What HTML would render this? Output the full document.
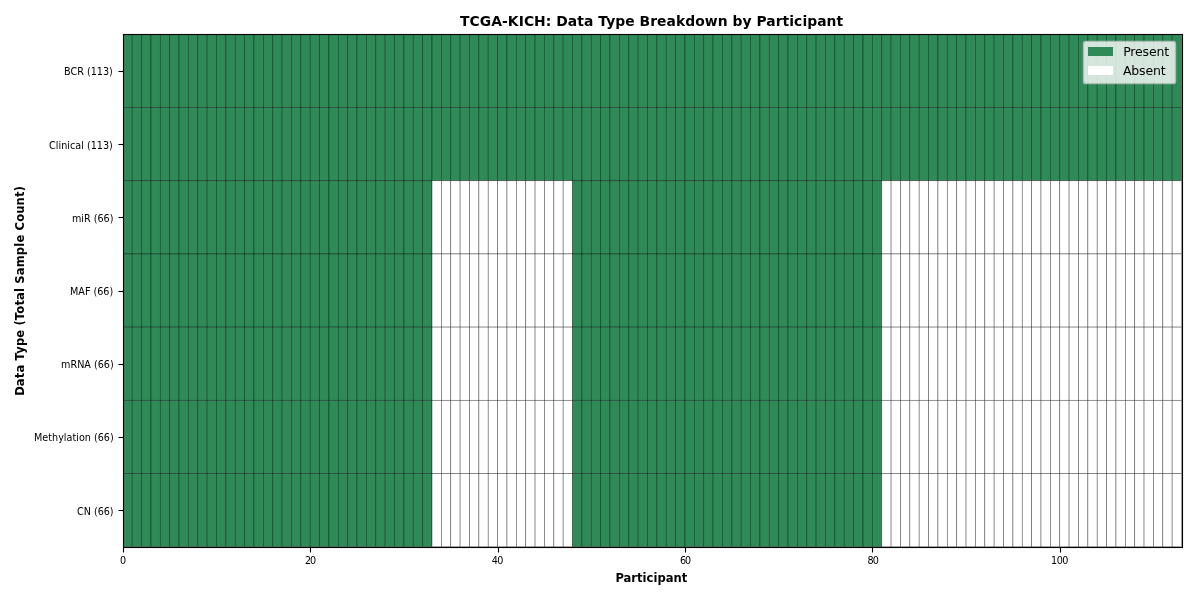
<!DOCTYPE html>
<html><head><meta charset="utf-8"><title>TCGA-KICH: Data Type Breakdown by Participant</title>
<style>
html,body{margin:0;padding:0;background:#fff;}
body{width:1200px;height:600px;overflow:hidden;}
svg{display:block;will-change:transform;}
text{font-family:"DejaVu Sans","Liberation Sans",sans-serif;fill:#000;}
.q rect{stroke:#000;stroke-opacity:.5;stroke-width:.694;}
.q .g{fill:#2e8b57;}
.q .w{fill:#fff;}
</style></head><body>
<svg width="1200" height="600" viewBox="0 0 1200 600">
<rect x="0" y="0" width="1200" height="600" fill="#fff"/>
<defs><clipPath id="ax"><rect x="123" y="34" width="1060" height="514"/></clipPath></defs>
<g class="q" clip-path="url(#ax)">
<rect class="g" x="122.85" y="34.333" width="9.369" height="73.198"/><rect class="g" x="132.219" y="34.333" width="9.369" height="73.198"/><rect class="g" x="141.588" y="34.333" width="9.369" height="73.198"/><rect class="g" x="150.957" y="34.333" width="9.369" height="73.198"/><rect class="g" x="160.326" y="34.333" width="9.369" height="73.198"/><rect class="g" x="169.695" y="34.333" width="9.369" height="73.198"/><rect class="g" x="179.064" y="34.333" width="9.369" height="73.198"/><rect class="g" x="188.433" y="34.333" width="9.369" height="73.198"/><rect class="g" x="197.802" y="34.333" width="9.369" height="73.198"/><rect class="g" x="207.171" y="34.333" width="9.369" height="73.198"/><rect class="g" x="216.54" y="34.333" width="9.369" height="73.198"/><rect class="g" x="225.909" y="34.333" width="9.369" height="73.198"/><rect class="g" x="235.278" y="34.333" width="9.369" height="73.198"/><rect class="g" x="244.647" y="34.333" width="9.369" height="73.198"/><rect class="g" x="254.016" y="34.333" width="9.369" height="73.198"/><rect class="g" x="263.385" y="34.333" width="9.369" height="73.198"/><rect class="g" x="272.754" y="34.333" width="9.369" height="73.198"/><rect class="g" x="282.123" y="34.333" width="9.369" height="73.198"/><rect class="g" x="291.492" y="34.333" width="9.369" height="73.198"/><rect class="g" x="300.862" y="34.333" width="9.369" height="73.198"/><rect class="g" x="310.231" y="34.333" width="9.369" height="73.198"/><rect class="g" x="319.6" y="34.333" width="9.369" height="73.198"/><rect class="g" x="328.969" y="34.333" width="9.369" height="73.198"/><rect class="g" x="338.338" y="34.333" width="9.369" height="73.198"/><rect class="g" x="347.707" y="34.333" width="9.369" height="73.198"/><rect class="g" x="357.076" y="34.333" width="9.369" height="73.198"/><rect class="g" x="366.445" y="34.333" width="9.369" height="73.198"/><rect class="g" x="375.814" y="34.333" width="9.369" height="73.198"/><rect class="g" x="385.183" y="34.333" width="9.369" height="73.198"/><rect class="g" x="394.552" y="34.333" width="9.369" height="73.198"/><rect class="g" x="403.921" y="34.333" width="9.369" height="73.198"/><rect class="g" x="413.29" y="34.333" width="9.369" height="73.198"/><rect class="g" x="422.659" y="34.333" width="9.369" height="73.198"/><rect class="g" x="432.028" y="34.333" width="9.369" height="73.198"/><rect class="g" x="441.397" y="34.333" width="9.369" height="73.198"/><rect class="g" x="450.766" y="34.333" width="9.369" height="73.198"/><rect class="g" x="460.135" y="34.333" width="9.369" height="73.198"/><rect class="g" x="469.504" y="34.333" width="9.369" height="73.198"/><rect class="g" x="478.873" y="34.333" width="9.369" height="73.198"/><rect class="g" x="488.242" y="34.333" width="9.369" height="73.198"/><rect class="g" x="497.611" y="34.333" width="9.369" height="73.198"/><rect class="g" x="506.98" y="34.333" width="9.369" height="73.198"/><rect class="g" x="516.349" y="34.333" width="9.369" height="73.198"/><rect class="g" x="525.718" y="34.333" width="9.369" height="73.198"/><rect class="g" x="535.087" y="34.333" width="9.369" height="73.198"/><rect class="g" x="544.456" y="34.333" width="9.369" height="73.198"/><rect class="g" x="553.825" y="34.333" width="9.369" height="73.198"/><rect class="g" x="563.194" y="34.333" width="9.369" height="73.198"/><rect class="g" x="572.563" y="34.333" width="9.369" height="73.198"/><rect class="g" x="581.932" y="34.333" width="9.369" height="73.198"/><rect class="g" x="591.301" y="34.333" width="9.369" height="73.198"/><rect class="g" x="600.67" y="34.333" width="9.369" height="73.198"/><rect class="g" x="610.039" y="34.333" width="9.369" height="73.198"/><rect class="g" x="619.408" y="34.333" width="9.369" height="73.198"/><rect class="g" x="628.777" y="34.333" width="9.369" height="73.198"/><rect class="g" x="638.146" y="34.333" width="9.369" height="73.198"/><rect class="g" x="647.515" y="34.333" width="9.369" height="73.198"/><rect class="g" x="656.885" y="34.333" width="9.369" height="73.198"/><rect class="g" x="666.254" y="34.333" width="9.369" height="73.198"/><rect class="g" x="675.623" y="34.333" width="9.369" height="73.198"/><rect class="g" x="684.992" y="34.333" width="9.369" height="73.198"/><rect class="g" x="694.361" y="34.333" width="9.369" height="73.198"/><rect class="g" x="703.73" y="34.333" width="9.369" height="73.198"/><rect class="g" x="713.099" y="34.333" width="9.369" height="73.198"/><rect class="g" x="722.468" y="34.333" width="9.369" height="73.198"/><rect class="g" x="731.837" y="34.333" width="9.369" height="73.198"/><rect class="g" x="741.206" y="34.333" width="9.369" height="73.198"/><rect class="g" x="750.575" y="34.333" width="9.369" height="73.198"/><rect class="g" x="759.944" y="34.333" width="9.369" height="73.198"/><rect class="g" x="769.313" y="34.333" width="9.369" height="73.198"/><rect class="g" x="778.682" y="34.333" width="9.369" height="73.198"/><rect class="g" x="788.051" y="34.333" width="9.369" height="73.198"/><rect class="g" x="797.42" y="34.333" width="9.369" height="73.198"/><rect class="g" x="806.789" y="34.333" width="9.369" height="73.198"/><rect class="g" x="816.158" y="34.333" width="9.369" height="73.198"/><rect class="g" x="825.527" y="34.333" width="9.369" height="73.198"/><rect class="g" x="834.896" y="34.333" width="9.369" height="73.198"/><rect class="g" x="844.265" y="34.333" width="9.369" height="73.198"/><rect class="g" x="853.634" y="34.333" width="9.369" height="73.198"/><rect class="g" x="863.003" y="34.333" width="9.369" height="73.198"/><rect class="g" x="872.372" y="34.333" width="9.369" height="73.198"/><rect class="g" x="881.741" y="34.333" width="9.369" height="73.198"/><rect class="g" x="891.11" y="34.333" width="9.369" height="73.198"/><rect class="g" x="900.479" y="34.333" width="9.369" height="73.198"/><rect class="g" x="909.848" y="34.333" width="9.369" height="73.198"/><rect class="g" x="919.217" y="34.333" width="9.369" height="73.198"/><rect class="g" x="928.586" y="34.333" width="9.369" height="73.198"/><rect class="g" x="937.955" y="34.333" width="9.369" height="73.198"/><rect class="g" x="947.324" y="34.333" width="9.369" height="73.198"/><rect class="g" x="956.693" y="34.333" width="9.369" height="73.198"/><rect class="g" x="966.062" y="34.333" width="9.369" height="73.198"/><rect class="g" x="975.431" y="34.333" width="9.369" height="73.198"/><rect class="g" x="984.8" y="34.333" width="9.369" height="73.198"/><rect class="g" x="994.169" y="34.333" width="9.369" height="73.198"/><rect class="g" x="1003.538" y="34.333" width="9.369" height="73.198"/><rect class="g" x="1012.908" y="34.333" width="9.369" height="73.198"/><rect class="g" x="1022.277" y="34.333" width="9.369" height="73.198"/><rect class="g" x="1031.646" y="34.333" width="9.369" height="73.198"/><rect class="g" x="1041.015" y="34.333" width="9.369" height="73.198"/><rect class="g" x="1050.384" y="34.333" width="9.369" height="73.198"/><rect class="g" x="1059.753" y="34.333" width="9.369" height="73.198"/><rect class="g" x="1069.122" y="34.333" width="9.369" height="73.198"/><rect class="g" x="1078.491" y="34.333" width="9.369" height="73.198"/><rect class="g" x="1087.86" y="34.333" width="9.369" height="73.198"/><rect class="g" x="1097.229" y="34.333" width="9.369" height="73.198"/><rect class="g" x="1106.598" y="34.333" width="9.369" height="73.198"/><rect class="g" x="1115.967" y="34.333" width="9.369" height="73.198"/><rect class="g" x="1125.336" y="34.333" width="9.369" height="73.198"/><rect class="g" x="1134.705" y="34.333" width="9.369" height="73.198"/><rect class="g" x="1144.074" y="34.333" width="9.369" height="73.198"/><rect class="g" x="1153.443" y="34.333" width="9.369" height="73.198"/><rect class="g" x="1162.812" y="34.333" width="9.369" height="73.198"/><rect class="g" x="1172.181" y="34.333" width="9.369" height="73.198"/>
<rect class="g" x="122.85" y="107.532" width="9.369" height="73.198"/><rect class="g" x="132.219" y="107.532" width="9.369" height="73.198"/><rect class="g" x="141.588" y="107.532" width="9.369" height="73.198"/><rect class="g" x="150.957" y="107.532" width="9.369" height="73.198"/><rect class="g" x="160.326" y="107.532" width="9.369" height="73.198"/><rect class="g" x="169.695" y="107.532" width="9.369" height="73.198"/><rect class="g" x="179.064" y="107.532" width="9.369" height="73.198"/><rect class="g" x="188.433" y="107.532" width="9.369" height="73.198"/><rect class="g" x="197.802" y="107.532" width="9.369" height="73.198"/><rect class="g" x="207.171" y="107.532" width="9.369" height="73.198"/><rect class="g" x="216.54" y="107.532" width="9.369" height="73.198"/><rect class="g" x="225.909" y="107.532" width="9.369" height="73.198"/><rect class="g" x="235.278" y="107.532" width="9.369" height="73.198"/><rect class="g" x="244.647" y="107.532" width="9.369" height="73.198"/><rect class="g" x="254.016" y="107.532" width="9.369" height="73.198"/><rect class="g" x="263.385" y="107.532" width="9.369" height="73.198"/><rect class="g" x="272.754" y="107.532" width="9.369" height="73.198"/><rect class="g" x="282.123" y="107.532" width="9.369" height="73.198"/><rect class="g" x="291.492" y="107.532" width="9.369" height="73.198"/><rect class="g" x="300.862" y="107.532" width="9.369" height="73.198"/><rect class="g" x="310.231" y="107.532" width="9.369" height="73.198"/><rect class="g" x="319.6" y="107.532" width="9.369" height="73.198"/><rect class="g" x="328.969" y="107.532" width="9.369" height="73.198"/><rect class="g" x="338.338" y="107.532" width="9.369" height="73.198"/><rect class="g" x="347.707" y="107.532" width="9.369" height="73.198"/><rect class="g" x="357.076" y="107.532" width="9.369" height="73.198"/><rect class="g" x="366.445" y="107.532" width="9.369" height="73.198"/><rect class="g" x="375.814" y="107.532" width="9.369" height="73.198"/><rect class="g" x="385.183" y="107.532" width="9.369" height="73.198"/><rect class="g" x="394.552" y="107.532" width="9.369" height="73.198"/><rect class="g" x="403.921" y="107.532" width="9.369" height="73.198"/><rect class="g" x="413.29" y="107.532" width="9.369" height="73.198"/><rect class="g" x="422.659" y="107.532" width="9.369" height="73.198"/><rect class="g" x="432.028" y="107.532" width="9.369" height="73.198"/><rect class="g" x="441.397" y="107.532" width="9.369" height="73.198"/><rect class="g" x="450.766" y="107.532" width="9.369" height="73.198"/><rect class="g" x="460.135" y="107.532" width="9.369" height="73.198"/><rect class="g" x="469.504" y="107.532" width="9.369" height="73.198"/><rect class="g" x="478.873" y="107.532" width="9.369" height="73.198"/><rect class="g" x="488.242" y="107.532" width="9.369" height="73.198"/><rect class="g" x="497.611" y="107.532" width="9.369" height="73.198"/><rect class="g" x="506.98" y="107.532" width="9.369" height="73.198"/><rect class="g" x="516.349" y="107.532" width="9.369" height="73.198"/><rect class="g" x="525.718" y="107.532" width="9.369" height="73.198"/><rect class="g" x="535.087" y="107.532" width="9.369" height="73.198"/><rect class="g" x="544.456" y="107.532" width="9.369" height="73.198"/><rect class="g" x="553.825" y="107.532" width="9.369" height="73.198"/><rect class="g" x="563.194" y="107.532" width="9.369" height="73.198"/><rect class="g" x="572.563" y="107.532" width="9.369" height="73.198"/><rect class="g" x="581.932" y="107.532" width="9.369" height="73.198"/><rect class="g" x="591.301" y="107.532" width="9.369" height="73.198"/><rect class="g" x="600.67" y="107.532" width="9.369" height="73.198"/><rect class="g" x="610.039" y="107.532" width="9.369" height="73.198"/><rect class="g" x="619.408" y="107.532" width="9.369" height="73.198"/><rect class="g" x="628.777" y="107.532" width="9.369" height="73.198"/><rect class="g" x="638.146" y="107.532" width="9.369" height="73.198"/><rect class="g" x="647.515" y="107.532" width="9.369" height="73.198"/><rect class="g" x="656.885" y="107.532" width="9.369" height="73.198"/><rect class="g" x="666.254" y="107.532" width="9.369" height="73.198"/><rect class="g" x="675.623" y="107.532" width="9.369" height="73.198"/><rect class="g" x="684.992" y="107.532" width="9.369" height="73.198"/><rect class="g" x="694.361" y="107.532" width="9.369" height="73.198"/><rect class="g" x="703.73" y="107.532" width="9.369" height="73.198"/><rect class="g" x="713.099" y="107.532" width="9.369" height="73.198"/><rect class="g" x="722.468" y="107.532" width="9.369" height="73.198"/><rect class="g" x="731.837" y="107.532" width="9.369" height="73.198"/><rect class="g" x="741.206" y="107.532" width="9.369" height="73.198"/><rect class="g" x="750.575" y="107.532" width="9.369" height="73.198"/><rect class="g" x="759.944" y="107.532" width="9.369" height="73.198"/><rect class="g" x="769.313" y="107.532" width="9.369" height="73.198"/><rect class="g" x="778.682" y="107.532" width="9.369" height="73.198"/><rect class="g" x="788.051" y="107.532" width="9.369" height="73.198"/><rect class="g" x="797.42" y="107.532" width="9.369" height="73.198"/><rect class="g" x="806.789" y="107.532" width="9.369" height="73.198"/><rect class="g" x="816.158" y="107.532" width="9.369" height="73.198"/><rect class="g" x="825.527" y="107.532" width="9.369" height="73.198"/><rect class="g" x="834.896" y="107.532" width="9.369" height="73.198"/><rect class="g" x="844.265" y="107.532" width="9.369" height="73.198"/><rect class="g" x="853.634" y="107.532" width="9.369" height="73.198"/><rect class="g" x="863.003" y="107.532" width="9.369" height="73.198"/><rect class="g" x="872.372" y="107.532" width="9.369" height="73.198"/><rect class="g" x="881.741" y="107.532" width="9.369" height="73.198"/><rect class="g" x="891.11" y="107.532" width="9.369" height="73.198"/><rect class="g" x="900.479" y="107.532" width="9.369" height="73.198"/><rect class="g" x="909.848" y="107.532" width="9.369" height="73.198"/><rect class="g" x="919.217" y="107.532" width="9.369" height="73.198"/><rect class="g" x="928.586" y="107.532" width="9.369" height="73.198"/><rect class="g" x="937.955" y="107.532" width="9.369" height="73.198"/><rect class="g" x="947.324" y="107.532" width="9.369" height="73.198"/><rect class="g" x="956.693" y="107.532" width="9.369" height="73.198"/><rect class="g" x="966.062" y="107.532" width="9.369" height="73.198"/><rect class="g" x="975.431" y="107.532" width="9.369" height="73.198"/><rect class="g" x="984.8" y="107.532" width="9.369" height="73.198"/><rect class="g" x="994.169" y="107.532" width="9.369" height="73.198"/><rect class="g" x="1003.538" y="107.532" width="9.369" height="73.198"/><rect class="g" x="1012.908" y="107.532" width="9.369" height="73.198"/><rect class="g" x="1022.277" y="107.532" width="9.369" height="73.198"/><rect class="g" x="1031.646" y="107.532" width="9.369" height="73.198"/><rect class="g" x="1041.015" y="107.532" width="9.369" height="73.198"/><rect class="g" x="1050.384" y="107.532" width="9.369" height="73.198"/><rect class="g" x="1059.753" y="107.532" width="9.369" height="73.198"/><rect class="g" x="1069.122" y="107.532" width="9.369" height="73.198"/><rect class="g" x="1078.491" y="107.532" width="9.369" height="73.198"/><rect class="g" x="1087.86" y="107.532" width="9.369" height="73.198"/><rect class="g" x="1097.229" y="107.532" width="9.369" height="73.198"/><rect class="g" x="1106.598" y="107.532" width="9.369" height="73.198"/><rect class="g" x="1115.967" y="107.532" width="9.369" height="73.198"/><rect class="g" x="1125.336" y="107.532" width="9.369" height="73.198"/><rect class="g" x="1134.705" y="107.532" width="9.369" height="73.198"/><rect class="g" x="1144.074" y="107.532" width="9.369" height="73.198"/><rect class="g" x="1153.443" y="107.532" width="9.369" height="73.198"/><rect class="g" x="1162.812" y="107.532" width="9.369" height="73.198"/><rect class="g" x="1172.181" y="107.532" width="9.369" height="73.198"/>
<rect class="g" x="122.85" y="180.73" width="9.369" height="73.198"/><rect class="g" x="132.219" y="180.73" width="9.369" height="73.198"/><rect class="g" x="141.588" y="180.73" width="9.369" height="73.198"/><rect class="g" x="150.957" y="180.73" width="9.369" height="73.198"/><rect class="g" x="160.326" y="180.73" width="9.369" height="73.198"/><rect class="g" x="169.695" y="180.73" width="9.369" height="73.198"/><rect class="g" x="179.064" y="180.73" width="9.369" height="73.198"/><rect class="g" x="188.433" y="180.73" width="9.369" height="73.198"/><rect class="g" x="197.802" y="180.73" width="9.369" height="73.198"/><rect class="g" x="207.171" y="180.73" width="9.369" height="73.198"/><rect class="g" x="216.54" y="180.73" width="9.369" height="73.198"/><rect class="g" x="225.909" y="180.73" width="9.369" height="73.198"/><rect class="g" x="235.278" y="180.73" width="9.369" height="73.198"/><rect class="g" x="244.647" y="180.73" width="9.369" height="73.198"/><rect class="g" x="254.016" y="180.73" width="9.369" height="73.198"/><rect class="g" x="263.385" y="180.73" width="9.369" height="73.198"/><rect class="g" x="272.754" y="180.73" width="9.369" height="73.198"/><rect class="g" x="282.123" y="180.73" width="9.369" height="73.198"/><rect class="g" x="291.492" y="180.73" width="9.369" height="73.198"/><rect class="g" x="300.862" y="180.73" width="9.369" height="73.198"/><rect class="g" x="310.231" y="180.73" width="9.369" height="73.198"/><rect class="g" x="319.6" y="180.73" width="9.369" height="73.198"/><rect class="g" x="328.969" y="180.73" width="9.369" height="73.198"/><rect class="g" x="338.338" y="180.73" width="9.369" height="73.198"/><rect class="g" x="347.707" y="180.73" width="9.369" height="73.198"/><rect class="g" x="357.076" y="180.73" width="9.369" height="73.198"/><rect class="g" x="366.445" y="180.73" width="9.369" height="73.198"/><rect class="g" x="375.814" y="180.73" width="9.369" height="73.198"/><rect class="g" x="385.183" y="180.73" width="9.369" height="73.198"/><rect class="g" x="394.552" y="180.73" width="9.369" height="73.198"/><rect class="g" x="403.921" y="180.73" width="9.369" height="73.198"/><rect class="g" x="413.29" y="180.73" width="9.369" height="73.198"/><rect class="g" x="422.659" y="180.73" width="9.369" height="73.198"/><rect class="w" x="432.028" y="180.73" width="9.369" height="73.198"/><rect class="w" x="441.397" y="180.73" width="9.369" height="73.198"/><rect class="w" x="450.766" y="180.73" width="9.369" height="73.198"/><rect class="w" x="460.135" y="180.73" width="9.369" height="73.198"/><rect class="w" x="469.504" y="180.73" width="9.369" height="73.198"/><rect class="w" x="478.873" y="180.73" width="9.369" height="73.198"/><rect class="w" x="488.242" y="180.73" width="9.369" height="73.198"/><rect class="w" x="497.611" y="180.73" width="9.369" height="73.198"/><rect class="w" x="506.98" y="180.73" width="9.369" height="73.198"/><rect class="w" x="516.349" y="180.73" width="9.369" height="73.198"/><rect class="w" x="525.718" y="180.73" width="9.369" height="73.198"/><rect class="w" x="535.087" y="180.73" width="9.369" height="73.198"/><rect class="w" x="544.456" y="180.73" width="9.369" height="73.198"/><rect class="w" x="553.825" y="180.73" width="9.369" height="73.198"/><rect class="w" x="563.194" y="180.73" width="9.369" height="73.198"/><rect class="g" x="572.563" y="180.73" width="9.369" height="73.198"/><rect class="g" x="581.932" y="180.73" width="9.369" height="73.198"/><rect class="g" x="591.301" y="180.73" width="9.369" height="73.198"/><rect class="g" x="600.67" y="180.73" width="9.369" height="73.198"/><rect class="g" x="610.039" y="180.73" width="9.369" height="73.198"/><rect class="g" x="619.408" y="180.73" width="9.369" height="73.198"/><rect class="g" x="628.777" y="180.73" width="9.369" height="73.198"/><rect class="g" x="638.146" y="180.73" width="9.369" height="73.198"/><rect class="g" x="647.515" y="180.73" width="9.369" height="73.198"/><rect class="g" x="656.885" y="180.73" width="9.369" height="73.198"/><rect class="g" x="666.254" y="180.73" width="9.369" height="73.198"/><rect class="g" x="675.623" y="180.73" width="9.369" height="73.198"/><rect class="g" x="684.992" y="180.73" width="9.369" height="73.198"/><rect class="g" x="694.361" y="180.73" width="9.369" height="73.198"/><rect class="g" x="703.73" y="180.73" width="9.369" height="73.198"/><rect class="g" x="713.099" y="180.73" width="9.369" height="73.198"/><rect class="g" x="722.468" y="180.73" width="9.369" height="73.198"/><rect class="g" x="731.837" y="180.73" width="9.369" height="73.198"/><rect class="g" x="741.206" y="180.73" width="9.369" height="73.198"/><rect class="g" x="750.575" y="180.73" width="9.369" height="73.198"/><rect class="g" x="759.944" y="180.73" width="9.369" height="73.198"/><rect class="g" x="769.313" y="180.73" width="9.369" height="73.198"/><rect class="g" x="778.682" y="180.73" width="9.369" height="73.198"/><rect class="g" x="788.051" y="180.73" width="9.369" height="73.198"/><rect class="g" x="797.42" y="180.73" width="9.369" height="73.198"/><rect class="g" x="806.789" y="180.73" width="9.369" height="73.198"/><rect class="g" x="816.158" y="180.73" width="9.369" height="73.198"/><rect class="g" x="825.527" y="180.73" width="9.369" height="73.198"/><rect class="g" x="834.896" y="180.73" width="9.369" height="73.198"/><rect class="g" x="844.265" y="180.73" width="9.369" height="73.198"/><rect class="g" x="853.634" y="180.73" width="9.369" height="73.198"/><rect class="g" x="863.003" y="180.73" width="9.369" height="73.198"/><rect class="g" x="872.372" y="180.73" width="9.369" height="73.198"/><rect class="w" x="881.741" y="180.73" width="9.369" height="73.198"/><rect class="w" x="891.11" y="180.73" width="9.369" height="73.198"/><rect class="w" x="900.479" y="180.73" width="9.369" height="73.198"/><rect class="w" x="909.848" y="180.73" width="9.369" height="73.198"/><rect class="w" x="919.217" y="180.73" width="9.369" height="73.198"/><rect class="w" x="928.586" y="180.73" width="9.369" height="73.198"/><rect class="w" x="937.955" y="180.73" width="9.369" height="73.198"/><rect class="w" x="947.324" y="180.73" width="9.369" height="73.198"/><rect class="w" x="956.693" y="180.73" width="9.369" height="73.198"/><rect class="w" x="966.062" y="180.73" width="9.369" height="73.198"/><rect class="w" x="975.431" y="180.73" width="9.369" height="73.198"/><rect class="w" x="984.8" y="180.73" width="9.369" height="73.198"/><rect class="w" x="994.169" y="180.73" width="9.369" height="73.198"/><rect class="w" x="1003.538" y="180.73" width="9.369" height="73.198"/><rect class="w" x="1012.908" y="180.73" width="9.369" height="73.198"/><rect class="w" x="1022.277" y="180.73" width="9.369" height="73.198"/><rect class="w" x="1031.646" y="180.73" width="9.369" height="73.198"/><rect class="w" x="1041.015" y="180.73" width="9.369" height="73.198"/><rect class="w" x="1050.384" y="180.73" width="9.369" height="73.198"/><rect class="w" x="1059.753" y="180.73" width="9.369" height="73.198"/><rect class="w" x="1069.122" y="180.73" width="9.369" height="73.198"/><rect class="w" x="1078.491" y="180.73" width="9.369" height="73.198"/><rect class="w" x="1087.86" y="180.73" width="9.369" height="73.198"/><rect class="w" x="1097.229" y="180.73" width="9.369" height="73.198"/><rect class="w" x="1106.598" y="180.73" width="9.369" height="73.198"/><rect class="w" x="1115.967" y="180.73" width="9.369" height="73.198"/><rect class="w" x="1125.336" y="180.73" width="9.369" height="73.198"/><rect class="w" x="1134.705" y="180.73" width="9.369" height="73.198"/><rect class="w" x="1144.074" y="180.73" width="9.369" height="73.198"/><rect class="w" x="1153.443" y="180.73" width="9.369" height="73.198"/><rect class="w" x="1162.812" y="180.73" width="9.369" height="73.198"/><rect class="w" x="1172.181" y="180.73" width="9.369" height="73.198"/>
<rect class="g" x="122.85" y="253.929" width="9.369" height="73.198"/><rect class="g" x="132.219" y="253.929" width="9.369" height="73.198"/><rect class="g" x="141.588" y="253.929" width="9.369" height="73.198"/><rect class="g" x="150.957" y="253.929" width="9.369" height="73.198"/><rect class="g" x="160.326" y="253.929" width="9.369" height="73.198"/><rect class="g" x="169.695" y="253.929" width="9.369" height="73.198"/><rect class="g" x="179.064" y="253.929" width="9.369" height="73.198"/><rect class="g" x="188.433" y="253.929" width="9.369" height="73.198"/><rect class="g" x="197.802" y="253.929" width="9.369" height="73.198"/><rect class="g" x="207.171" y="253.929" width="9.369" height="73.198"/><rect class="g" x="216.54" y="253.929" width="9.369" height="73.198"/><rect class="g" x="225.909" y="253.929" width="9.369" height="73.198"/><rect class="g" x="235.278" y="253.929" width="9.369" height="73.198"/><rect class="g" x="244.647" y="253.929" width="9.369" height="73.198"/><rect class="g" x="254.016" y="253.929" width="9.369" height="73.198"/><rect class="g" x="263.385" y="253.929" width="9.369" height="73.198"/><rect class="g" x="272.754" y="253.929" width="9.369" height="73.198"/><rect class="g" x="282.123" y="253.929" width="9.369" height="73.198"/><rect class="g" x="291.492" y="253.929" width="9.369" height="73.198"/><rect class="g" x="300.862" y="253.929" width="9.369" height="73.198"/><rect class="g" x="310.231" y="253.929" width="9.369" height="73.198"/><rect class="g" x="319.6" y="253.929" width="9.369" height="73.198"/><rect class="g" x="328.969" y="253.929" width="9.369" height="73.198"/><rect class="g" x="338.338" y="253.929" width="9.369" height="73.198"/><rect class="g" x="347.707" y="253.929" width="9.369" height="73.198"/><rect class="g" x="357.076" y="253.929" width="9.369" height="73.198"/><rect class="g" x="366.445" y="253.929" width="9.369" height="73.198"/><rect class="g" x="375.814" y="253.929" width="9.369" height="73.198"/><rect class="g" x="385.183" y="253.929" width="9.369" height="73.198"/><rect class="g" x="394.552" y="253.929" width="9.369" height="73.198"/><rect class="g" x="403.921" y="253.929" width="9.369" height="73.198"/><rect class="g" x="413.29" y="253.929" width="9.369" height="73.198"/><rect class="g" x="422.659" y="253.929" width="9.369" height="73.198"/><rect class="w" x="432.028" y="253.929" width="9.369" height="73.198"/><rect class="w" x="441.397" y="253.929" width="9.369" height="73.198"/><rect class="w" x="450.766" y="253.929" width="9.369" height="73.198"/><rect class="w" x="460.135" y="253.929" width="9.369" height="73.198"/><rect class="w" x="469.504" y="253.929" width="9.369" height="73.198"/><rect class="w" x="478.873" y="253.929" width="9.369" height="73.198"/><rect class="w" x="488.242" y="253.929" width="9.369" height="73.198"/><rect class="w" x="497.611" y="253.929" width="9.369" height="73.198"/><rect class="w" x="506.98" y="253.929" width="9.369" height="73.198"/><rect class="w" x="516.349" y="253.929" width="9.369" height="73.198"/><rect class="w" x="525.718" y="253.929" width="9.369" height="73.198"/><rect class="w" x="535.087" y="253.929" width="9.369" height="73.198"/><rect class="w" x="544.456" y="253.929" width="9.369" height="73.198"/><rect class="w" x="553.825" y="253.929" width="9.369" height="73.198"/><rect class="w" x="563.194" y="253.929" width="9.369" height="73.198"/><rect class="g" x="572.563" y="253.929" width="9.369" height="73.198"/><rect class="g" x="581.932" y="253.929" width="9.369" height="73.198"/><rect class="g" x="591.301" y="253.929" width="9.369" height="73.198"/><rect class="g" x="600.67" y="253.929" width="9.369" height="73.198"/><rect class="g" x="610.039" y="253.929" width="9.369" height="73.198"/><rect class="g" x="619.408" y="253.929" width="9.369" height="73.198"/><rect class="g" x="628.777" y="253.929" width="9.369" height="73.198"/><rect class="g" x="638.146" y="253.929" width="9.369" height="73.198"/><rect class="g" x="647.515" y="253.929" width="9.369" height="73.198"/><rect class="g" x="656.885" y="253.929" width="9.369" height="73.198"/><rect class="g" x="666.254" y="253.929" width="9.369" height="73.198"/><rect class="g" x="675.623" y="253.929" width="9.369" height="73.198"/><rect class="g" x="684.992" y="253.929" width="9.369" height="73.198"/><rect class="g" x="694.361" y="253.929" width="9.369" height="73.198"/><rect class="g" x="703.73" y="253.929" width="9.369" height="73.198"/><rect class="g" x="713.099" y="253.929" width="9.369" height="73.198"/><rect class="g" x="722.468" y="253.929" width="9.369" height="73.198"/><rect class="g" x="731.837" y="253.929" width="9.369" height="73.198"/><rect class="g" x="741.206" y="253.929" width="9.369" height="73.198"/><rect class="g" x="750.575" y="253.929" width="9.369" height="73.198"/><rect class="g" x="759.944" y="253.929" width="9.369" height="73.198"/><rect class="g" x="769.313" y="253.929" width="9.369" height="73.198"/><rect class="g" x="778.682" y="253.929" width="9.369" height="73.198"/><rect class="g" x="788.051" y="253.929" width="9.369" height="73.198"/><rect class="g" x="797.42" y="253.929" width="9.369" height="73.198"/><rect class="g" x="806.789" y="253.929" width="9.369" height="73.198"/><rect class="g" x="816.158" y="253.929" width="9.369" height="73.198"/><rect class="g" x="825.527" y="253.929" width="9.369" height="73.198"/><rect class="g" x="834.896" y="253.929" width="9.369" height="73.198"/><rect class="g" x="844.265" y="253.929" width="9.369" height="73.198"/><rect class="g" x="853.634" y="253.929" width="9.369" height="73.198"/><rect class="g" x="863.003" y="253.929" width="9.369" height="73.198"/><rect class="g" x="872.372" y="253.929" width="9.369" height="73.198"/><rect class="w" x="881.741" y="253.929" width="9.369" height="73.198"/><rect class="w" x="891.11" y="253.929" width="9.369" height="73.198"/><rect class="w" x="900.479" y="253.929" width="9.369" height="73.198"/><rect class="w" x="909.848" y="253.929" width="9.369" height="73.198"/><rect class="w" x="919.217" y="253.929" width="9.369" height="73.198"/><rect class="w" x="928.586" y="253.929" width="9.369" height="73.198"/><rect class="w" x="937.955" y="253.929" width="9.369" height="73.198"/><rect class="w" x="947.324" y="253.929" width="9.369" height="73.198"/><rect class="w" x="956.693" y="253.929" width="9.369" height="73.198"/><rect class="w" x="966.062" y="253.929" width="9.369" height="73.198"/><rect class="w" x="975.431" y="253.929" width="9.369" height="73.198"/><rect class="w" x="984.8" y="253.929" width="9.369" height="73.198"/><rect class="w" x="994.169" y="253.929" width="9.369" height="73.198"/><rect class="w" x="1003.538" y="253.929" width="9.369" height="73.198"/><rect class="w" x="1012.908" y="253.929" width="9.369" height="73.198"/><rect class="w" x="1022.277" y="253.929" width="9.369" height="73.198"/><rect class="w" x="1031.646" y="253.929" width="9.369" height="73.198"/><rect class="w" x="1041.015" y="253.929" width="9.369" height="73.198"/><rect class="w" x="1050.384" y="253.929" width="9.369" height="73.198"/><rect class="w" x="1059.753" y="253.929" width="9.369" height="73.198"/><rect class="w" x="1069.122" y="253.929" width="9.369" height="73.198"/><rect class="w" x="1078.491" y="253.929" width="9.369" height="73.198"/><rect class="w" x="1087.86" y="253.929" width="9.369" height="73.198"/><rect class="w" x="1097.229" y="253.929" width="9.369" height="73.198"/><rect class="w" x="1106.598" y="253.929" width="9.369" height="73.198"/><rect class="w" x="1115.967" y="253.929" width="9.369" height="73.198"/><rect class="w" x="1125.336" y="253.929" width="9.369" height="73.198"/><rect class="w" x="1134.705" y="253.929" width="9.369" height="73.198"/><rect class="w" x="1144.074" y="253.929" width="9.369" height="73.198"/><rect class="w" x="1153.443" y="253.929" width="9.369" height="73.198"/><rect class="w" x="1162.812" y="253.929" width="9.369" height="73.198"/><rect class="w" x="1172.181" y="253.929" width="9.369" height="73.198"/>
<rect class="g" x="122.85" y="327.127" width="9.369" height="73.198"/><rect class="g" x="132.219" y="327.127" width="9.369" height="73.198"/><rect class="g" x="141.588" y="327.127" width="9.369" height="73.198"/><rect class="g" x="150.957" y="327.127" width="9.369" height="73.198"/><rect class="g" x="160.326" y="327.127" width="9.369" height="73.198"/><rect class="g" x="169.695" y="327.127" width="9.369" height="73.198"/><rect class="g" x="179.064" y="327.127" width="9.369" height="73.198"/><rect class="g" x="188.433" y="327.127" width="9.369" height="73.198"/><rect class="g" x="197.802" y="327.127" width="9.369" height="73.198"/><rect class="g" x="207.171" y="327.127" width="9.369" height="73.198"/><rect class="g" x="216.54" y="327.127" width="9.369" height="73.198"/><rect class="g" x="225.909" y="327.127" width="9.369" height="73.198"/><rect class="g" x="235.278" y="327.127" width="9.369" height="73.198"/><rect class="g" x="244.647" y="327.127" width="9.369" height="73.198"/><rect class="g" x="254.016" y="327.127" width="9.369" height="73.198"/><rect class="g" x="263.385" y="327.127" width="9.369" height="73.198"/><rect class="g" x="272.754" y="327.127" width="9.369" height="73.198"/><rect class="g" x="282.123" y="327.127" width="9.369" height="73.198"/><rect class="g" x="291.492" y="327.127" width="9.369" height="73.198"/><rect class="g" x="300.862" y="327.127" width="9.369" height="73.198"/><rect class="g" x="310.231" y="327.127" width="9.369" height="73.198"/><rect class="g" x="319.6" y="327.127" width="9.369" height="73.198"/><rect class="g" x="328.969" y="327.127" width="9.369" height="73.198"/><rect class="g" x="338.338" y="327.127" width="9.369" height="73.198"/><rect class="g" x="347.707" y="327.127" width="9.369" height="73.198"/><rect class="g" x="357.076" y="327.127" width="9.369" height="73.198"/><rect class="g" x="366.445" y="327.127" width="9.369" height="73.198"/><rect class="g" x="375.814" y="327.127" width="9.369" height="73.198"/><rect class="g" x="385.183" y="327.127" width="9.369" height="73.198"/><rect class="g" x="394.552" y="327.127" width="9.369" height="73.198"/><rect class="g" x="403.921" y="327.127" width="9.369" height="73.198"/><rect class="g" x="413.29" y="327.127" width="9.369" height="73.198"/><rect class="g" x="422.659" y="327.127" width="9.369" height="73.198"/><rect class="w" x="432.028" y="327.127" width="9.369" height="73.198"/><rect class="w" x="441.397" y="327.127" width="9.369" height="73.198"/><rect class="w" x="450.766" y="327.127" width="9.369" height="73.198"/><rect class="w" x="460.135" y="327.127" width="9.369" height="73.198"/><rect class="w" x="469.504" y="327.127" width="9.369" height="73.198"/><rect class="w" x="478.873" y="327.127" width="9.369" height="73.198"/><rect class="w" x="488.242" y="327.127" width="9.369" height="73.198"/><rect class="w" x="497.611" y="327.127" width="9.369" height="73.198"/><rect class="w" x="506.98" y="327.127" width="9.369" height="73.198"/><rect class="w" x="516.349" y="327.127" width="9.369" height="73.198"/><rect class="w" x="525.718" y="327.127" width="9.369" height="73.198"/><rect class="w" x="535.087" y="327.127" width="9.369" height="73.198"/><rect class="w" x="544.456" y="327.127" width="9.369" height="73.198"/><rect class="w" x="553.825" y="327.127" width="9.369" height="73.198"/><rect class="w" x="563.194" y="327.127" width="9.369" height="73.198"/><rect class="g" x="572.563" y="327.127" width="9.369" height="73.198"/><rect class="g" x="581.932" y="327.127" width="9.369" height="73.198"/><rect class="g" x="591.301" y="327.127" width="9.369" height="73.198"/><rect class="g" x="600.67" y="327.127" width="9.369" height="73.198"/><rect class="g" x="610.039" y="327.127" width="9.369" height="73.198"/><rect class="g" x="619.408" y="327.127" width="9.369" height="73.198"/><rect class="g" x="628.777" y="327.127" width="9.369" height="73.198"/><rect class="g" x="638.146" y="327.127" width="9.369" height="73.198"/><rect class="g" x="647.515" y="327.127" width="9.369" height="73.198"/><rect class="g" x="656.885" y="327.127" width="9.369" height="73.198"/><rect class="g" x="666.254" y="327.127" width="9.369" height="73.198"/><rect class="g" x="675.623" y="327.127" width="9.369" height="73.198"/><rect class="g" x="684.992" y="327.127" width="9.369" height="73.198"/><rect class="g" x="694.361" y="327.127" width="9.369" height="73.198"/><rect class="g" x="703.73" y="327.127" width="9.369" height="73.198"/><rect class="g" x="713.099" y="327.127" width="9.369" height="73.198"/><rect class="g" x="722.468" y="327.127" width="9.369" height="73.198"/><rect class="g" x="731.837" y="327.127" width="9.369" height="73.198"/><rect class="g" x="741.206" y="327.127" width="9.369" height="73.198"/><rect class="g" x="750.575" y="327.127" width="9.369" height="73.198"/><rect class="g" x="759.944" y="327.127" width="9.369" height="73.198"/><rect class="g" x="769.313" y="327.127" width="9.369" height="73.198"/><rect class="g" x="778.682" y="327.127" width="9.369" height="73.198"/><rect class="g" x="788.051" y="327.127" width="9.369" height="73.198"/><rect class="g" x="797.42" y="327.127" width="9.369" height="73.198"/><rect class="g" x="806.789" y="327.127" width="9.369" height="73.198"/><rect class="g" x="816.158" y="327.127" width="9.369" height="73.198"/><rect class="g" x="825.527" y="327.127" width="9.369" height="73.198"/><rect class="g" x="834.896" y="327.127" width="9.369" height="73.198"/><rect class="g" x="844.265" y="327.127" width="9.369" height="73.198"/><rect class="g" x="853.634" y="327.127" width="9.369" height="73.198"/><rect class="g" x="863.003" y="327.127" width="9.369" height="73.198"/><rect class="g" x="872.372" y="327.127" width="9.369" height="73.198"/><rect class="w" x="881.741" y="327.127" width="9.369" height="73.198"/><rect class="w" x="891.11" y="327.127" width="9.369" height="73.198"/><rect class="w" x="900.479" y="327.127" width="9.369" height="73.198"/><rect class="w" x="909.848" y="327.127" width="9.369" height="73.198"/><rect class="w" x="919.217" y="327.127" width="9.369" height="73.198"/><rect class="w" x="928.586" y="327.127" width="9.369" height="73.198"/><rect class="w" x="937.955" y="327.127" width="9.369" height="73.198"/><rect class="w" x="947.324" y="327.127" width="9.369" height="73.198"/><rect class="w" x="956.693" y="327.127" width="9.369" height="73.198"/><rect class="w" x="966.062" y="327.127" width="9.369" height="73.198"/><rect class="w" x="975.431" y="327.127" width="9.369" height="73.198"/><rect class="w" x="984.8" y="327.127" width="9.369" height="73.198"/><rect class="w" x="994.169" y="327.127" width="9.369" height="73.198"/><rect class="w" x="1003.538" y="327.127" width="9.369" height="73.198"/><rect class="w" x="1012.908" y="327.127" width="9.369" height="73.198"/><rect class="w" x="1022.277" y="327.127" width="9.369" height="73.198"/><rect class="w" x="1031.646" y="327.127" width="9.369" height="73.198"/><rect class="w" x="1041.015" y="327.127" width="9.369" height="73.198"/><rect class="w" x="1050.384" y="327.127" width="9.369" height="73.198"/><rect class="w" x="1059.753" y="327.127" width="9.369" height="73.198"/><rect class="w" x="1069.122" y="327.127" width="9.369" height="73.198"/><rect class="w" x="1078.491" y="327.127" width="9.369" height="73.198"/><rect class="w" x="1087.86" y="327.127" width="9.369" height="73.198"/><rect class="w" x="1097.229" y="327.127" width="9.369" height="73.198"/><rect class="w" x="1106.598" y="327.127" width="9.369" height="73.198"/><rect class="w" x="1115.967" y="327.127" width="9.369" height="73.198"/><rect class="w" x="1125.336" y="327.127" width="9.369" height="73.198"/><rect class="w" x="1134.705" y="327.127" width="9.369" height="73.198"/><rect class="w" x="1144.074" y="327.127" width="9.369" height="73.198"/><rect class="w" x="1153.443" y="327.127" width="9.369" height="73.198"/><rect class="w" x="1162.812" y="327.127" width="9.369" height="73.198"/><rect class="w" x="1172.181" y="327.127" width="9.369" height="73.198"/>
<rect class="g" x="122.85" y="400.325" width="9.369" height="73.198"/><rect class="g" x="132.219" y="400.325" width="9.369" height="73.198"/><rect class="g" x="141.588" y="400.325" width="9.369" height="73.198"/><rect class="g" x="150.957" y="400.325" width="9.369" height="73.198"/><rect class="g" x="160.326" y="400.325" width="9.369" height="73.198"/><rect class="g" x="169.695" y="400.325" width="9.369" height="73.198"/><rect class="g" x="179.064" y="400.325" width="9.369" height="73.198"/><rect class="g" x="188.433" y="400.325" width="9.369" height="73.198"/><rect class="g" x="197.802" y="400.325" width="9.369" height="73.198"/><rect class="g" x="207.171" y="400.325" width="9.369" height="73.198"/><rect class="g" x="216.54" y="400.325" width="9.369" height="73.198"/><rect class="g" x="225.909" y="400.325" width="9.369" height="73.198"/><rect class="g" x="235.278" y="400.325" width="9.369" height="73.198"/><rect class="g" x="244.647" y="400.325" width="9.369" height="73.198"/><rect class="g" x="254.016" y="400.325" width="9.369" height="73.198"/><rect class="g" x="263.385" y="400.325" width="9.369" height="73.198"/><rect class="g" x="272.754" y="400.325" width="9.369" height="73.198"/><rect class="g" x="282.123" y="400.325" width="9.369" height="73.198"/><rect class="g" x="291.492" y="400.325" width="9.369" height="73.198"/><rect class="g" x="300.862" y="400.325" width="9.369" height="73.198"/><rect class="g" x="310.231" y="400.325" width="9.369" height="73.198"/><rect class="g" x="319.6" y="400.325" width="9.369" height="73.198"/><rect class="g" x="328.969" y="400.325" width="9.369" height="73.198"/><rect class="g" x="338.338" y="400.325" width="9.369" height="73.198"/><rect class="g" x="347.707" y="400.325" width="9.369" height="73.198"/><rect class="g" x="357.076" y="400.325" width="9.369" height="73.198"/><rect class="g" x="366.445" y="400.325" width="9.369" height="73.198"/><rect class="g" x="375.814" y="400.325" width="9.369" height="73.198"/><rect class="g" x="385.183" y="400.325" width="9.369" height="73.198"/><rect class="g" x="394.552" y="400.325" width="9.369" height="73.198"/><rect class="g" x="403.921" y="400.325" width="9.369" height="73.198"/><rect class="g" x="413.29" y="400.325" width="9.369" height="73.198"/><rect class="g" x="422.659" y="400.325" width="9.369" height="73.198"/><rect class="w" x="432.028" y="400.325" width="9.369" height="73.198"/><rect class="w" x="441.397" y="400.325" width="9.369" height="73.198"/><rect class="w" x="450.766" y="400.325" width="9.369" height="73.198"/><rect class="w" x="460.135" y="400.325" width="9.369" height="73.198"/><rect class="w" x="469.504" y="400.325" width="9.369" height="73.198"/><rect class="w" x="478.873" y="400.325" width="9.369" height="73.198"/><rect class="w" x="488.242" y="400.325" width="9.369" height="73.198"/><rect class="w" x="497.611" y="400.325" width="9.369" height="73.198"/><rect class="w" x="506.98" y="400.325" width="9.369" height="73.198"/><rect class="w" x="516.349" y="400.325" width="9.369" height="73.198"/><rect class="w" x="525.718" y="400.325" width="9.369" height="73.198"/><rect class="w" x="535.087" y="400.325" width="9.369" height="73.198"/><rect class="w" x="544.456" y="400.325" width="9.369" height="73.198"/><rect class="w" x="553.825" y="400.325" width="9.369" height="73.198"/><rect class="w" x="563.194" y="400.325" width="9.369" height="73.198"/><rect class="g" x="572.563" y="400.325" width="9.369" height="73.198"/><rect class="g" x="581.932" y="400.325" width="9.369" height="73.198"/><rect class="g" x="591.301" y="400.325" width="9.369" height="73.198"/><rect class="g" x="600.67" y="400.325" width="9.369" height="73.198"/><rect class="g" x="610.039" y="400.325" width="9.369" height="73.198"/><rect class="g" x="619.408" y="400.325" width="9.369" height="73.198"/><rect class="g" x="628.777" y="400.325" width="9.369" height="73.198"/><rect class="g" x="638.146" y="400.325" width="9.369" height="73.198"/><rect class="g" x="647.515" y="400.325" width="9.369" height="73.198"/><rect class="g" x="656.885" y="400.325" width="9.369" height="73.198"/><rect class="g" x="666.254" y="400.325" width="9.369" height="73.198"/><rect class="g" x="675.623" y="400.325" width="9.369" height="73.198"/><rect class="g" x="684.992" y="400.325" width="9.369" height="73.198"/><rect class="g" x="694.361" y="400.325" width="9.369" height="73.198"/><rect class="g" x="703.73" y="400.325" width="9.369" height="73.198"/><rect class="g" x="713.099" y="400.325" width="9.369" height="73.198"/><rect class="g" x="722.468" y="400.325" width="9.369" height="73.198"/><rect class="g" x="731.837" y="400.325" width="9.369" height="73.198"/><rect class="g" x="741.206" y="400.325" width="9.369" height="73.198"/><rect class="g" x="750.575" y="400.325" width="9.369" height="73.198"/><rect class="g" x="759.944" y="400.325" width="9.369" height="73.198"/><rect class="g" x="769.313" y="400.325" width="9.369" height="73.198"/><rect class="g" x="778.682" y="400.325" width="9.369" height="73.198"/><rect class="g" x="788.051" y="400.325" width="9.369" height="73.198"/><rect class="g" x="797.42" y="400.325" width="9.369" height="73.198"/><rect class="g" x="806.789" y="400.325" width="9.369" height="73.198"/><rect class="g" x="816.158" y="400.325" width="9.369" height="73.198"/><rect class="g" x="825.527" y="400.325" width="9.369" height="73.198"/><rect class="g" x="834.896" y="400.325" width="9.369" height="73.198"/><rect class="g" x="844.265" y="400.325" width="9.369" height="73.198"/><rect class="g" x="853.634" y="400.325" width="9.369" height="73.198"/><rect class="g" x="863.003" y="400.325" width="9.369" height="73.198"/><rect class="g" x="872.372" y="400.325" width="9.369" height="73.198"/><rect class="w" x="881.741" y="400.325" width="9.369" height="73.198"/><rect class="w" x="891.11" y="400.325" width="9.369" height="73.198"/><rect class="w" x="900.479" y="400.325" width="9.369" height="73.198"/><rect class="w" x="909.848" y="400.325" width="9.369" height="73.198"/><rect class="w" x="919.217" y="400.325" width="9.369" height="73.198"/><rect class="w" x="928.586" y="400.325" width="9.369" height="73.198"/><rect class="w" x="937.955" y="400.325" width="9.369" height="73.198"/><rect class="w" x="947.324" y="400.325" width="9.369" height="73.198"/><rect class="w" x="956.693" y="400.325" width="9.369" height="73.198"/><rect class="w" x="966.062" y="400.325" width="9.369" height="73.198"/><rect class="w" x="975.431" y="400.325" width="9.369" height="73.198"/><rect class="w" x="984.8" y="400.325" width="9.369" height="73.198"/><rect class="w" x="994.169" y="400.325" width="9.369" height="73.198"/><rect class="w" x="1003.538" y="400.325" width="9.369" height="73.198"/><rect class="w" x="1012.908" y="400.325" width="9.369" height="73.198"/><rect class="w" x="1022.277" y="400.325" width="9.369" height="73.198"/><rect class="w" x="1031.646" y="400.325" width="9.369" height="73.198"/><rect class="w" x="1041.015" y="400.325" width="9.369" height="73.198"/><rect class="w" x="1050.384" y="400.325" width="9.369" height="73.198"/><rect class="w" x="1059.753" y="400.325" width="9.369" height="73.198"/><rect class="w" x="1069.122" y="400.325" width="9.369" height="73.198"/><rect class="w" x="1078.491" y="400.325" width="9.369" height="73.198"/><rect class="w" x="1087.86" y="400.325" width="9.369" height="73.198"/><rect class="w" x="1097.229" y="400.325" width="9.369" height="73.198"/><rect class="w" x="1106.598" y="400.325" width="9.369" height="73.198"/><rect class="w" x="1115.967" y="400.325" width="9.369" height="73.198"/><rect class="w" x="1125.336" y="400.325" width="9.369" height="73.198"/><rect class="w" x="1134.705" y="400.325" width="9.369" height="73.198"/><rect class="w" x="1144.074" y="400.325" width="9.369" height="73.198"/><rect class="w" x="1153.443" y="400.325" width="9.369" height="73.198"/><rect class="w" x="1162.812" y="400.325" width="9.369" height="73.198"/><rect class="w" x="1172.181" y="400.325" width="9.369" height="73.198"/>
<rect class="g" x="122.85" y="473.524" width="9.369" height="73.198"/><rect class="g" x="132.219" y="473.524" width="9.369" height="73.198"/><rect class="g" x="141.588" y="473.524" width="9.369" height="73.198"/><rect class="g" x="150.957" y="473.524" width="9.369" height="73.198"/><rect class="g" x="160.326" y="473.524" width="9.369" height="73.198"/><rect class="g" x="169.695" y="473.524" width="9.369" height="73.198"/><rect class="g" x="179.064" y="473.524" width="9.369" height="73.198"/><rect class="g" x="188.433" y="473.524" width="9.369" height="73.198"/><rect class="g" x="197.802" y="473.524" width="9.369" height="73.198"/><rect class="g" x="207.171" y="473.524" width="9.369" height="73.198"/><rect class="g" x="216.54" y="473.524" width="9.369" height="73.198"/><rect class="g" x="225.909" y="473.524" width="9.369" height="73.198"/><rect class="g" x="235.278" y="473.524" width="9.369" height="73.198"/><rect class="g" x="244.647" y="473.524" width="9.369" height="73.198"/><rect class="g" x="254.016" y="473.524" width="9.369" height="73.198"/><rect class="g" x="263.385" y="473.524" width="9.369" height="73.198"/><rect class="g" x="272.754" y="473.524" width="9.369" height="73.198"/><rect class="g" x="282.123" y="473.524" width="9.369" height="73.198"/><rect class="g" x="291.492" y="473.524" width="9.369" height="73.198"/><rect class="g" x="300.862" y="473.524" width="9.369" height="73.198"/><rect class="g" x="310.231" y="473.524" width="9.369" height="73.198"/><rect class="g" x="319.6" y="473.524" width="9.369" height="73.198"/><rect class="g" x="328.969" y="473.524" width="9.369" height="73.198"/><rect class="g" x="338.338" y="473.524" width="9.369" height="73.198"/><rect class="g" x="347.707" y="473.524" width="9.369" height="73.198"/><rect class="g" x="357.076" y="473.524" width="9.369" height="73.198"/><rect class="g" x="366.445" y="473.524" width="9.369" height="73.198"/><rect class="g" x="375.814" y="473.524" width="9.369" height="73.198"/><rect class="g" x="385.183" y="473.524" width="9.369" height="73.198"/><rect class="g" x="394.552" y="473.524" width="9.369" height="73.198"/><rect class="g" x="403.921" y="473.524" width="9.369" height="73.198"/><rect class="g" x="413.29" y="473.524" width="9.369" height="73.198"/><rect class="g" x="422.659" y="473.524" width="9.369" height="73.198"/><rect class="w" x="432.028" y="473.524" width="9.369" height="73.198"/><rect class="w" x="441.397" y="473.524" width="9.369" height="73.198"/><rect class="w" x="450.766" y="473.524" width="9.369" height="73.198"/><rect class="w" x="460.135" y="473.524" width="9.369" height="73.198"/><rect class="w" x="469.504" y="473.524" width="9.369" height="73.198"/><rect class="w" x="478.873" y="473.524" width="9.369" height="73.198"/><rect class="w" x="488.242" y="473.524" width="9.369" height="73.198"/><rect class="w" x="497.611" y="473.524" width="9.369" height="73.198"/><rect class="w" x="506.98" y="473.524" width="9.369" height="73.198"/><rect class="w" x="516.349" y="473.524" width="9.369" height="73.198"/><rect class="w" x="525.718" y="473.524" width="9.369" height="73.198"/><rect class="w" x="535.087" y="473.524" width="9.369" height="73.198"/><rect class="w" x="544.456" y="473.524" width="9.369" height="73.198"/><rect class="w" x="553.825" y="473.524" width="9.369" height="73.198"/><rect class="w" x="563.194" y="473.524" width="9.369" height="73.198"/><rect class="g" x="572.563" y="473.524" width="9.369" height="73.198"/><rect class="g" x="581.932" y="473.524" width="9.369" height="73.198"/><rect class="g" x="591.301" y="473.524" width="9.369" height="73.198"/><rect class="g" x="600.67" y="473.524" width="9.369" height="73.198"/><rect class="g" x="610.039" y="473.524" width="9.369" height="73.198"/><rect class="g" x="619.408" y="473.524" width="9.369" height="73.198"/><rect class="g" x="628.777" y="473.524" width="9.369" height="73.198"/><rect class="g" x="638.146" y="473.524" width="9.369" height="73.198"/><rect class="g" x="647.515" y="473.524" width="9.369" height="73.198"/><rect class="g" x="656.885" y="473.524" width="9.369" height="73.198"/><rect class="g" x="666.254" y="473.524" width="9.369" height="73.198"/><rect class="g" x="675.623" y="473.524" width="9.369" height="73.198"/><rect class="g" x="684.992" y="473.524" width="9.369" height="73.198"/><rect class="g" x="694.361" y="473.524" width="9.369" height="73.198"/><rect class="g" x="703.73" y="473.524" width="9.369" height="73.198"/><rect class="g" x="713.099" y="473.524" width="9.369" height="73.198"/><rect class="g" x="722.468" y="473.524" width="9.369" height="73.198"/><rect class="g" x="731.837" y="473.524" width="9.369" height="73.198"/><rect class="g" x="741.206" y="473.524" width="9.369" height="73.198"/><rect class="g" x="750.575" y="473.524" width="9.369" height="73.198"/><rect class="g" x="759.944" y="473.524" width="9.369" height="73.198"/><rect class="g" x="769.313" y="473.524" width="9.369" height="73.198"/><rect class="g" x="778.682" y="473.524" width="9.369" height="73.198"/><rect class="g" x="788.051" y="473.524" width="9.369" height="73.198"/><rect class="g" x="797.42" y="473.524" width="9.369" height="73.198"/><rect class="g" x="806.789" y="473.524" width="9.369" height="73.198"/><rect class="g" x="816.158" y="473.524" width="9.369" height="73.198"/><rect class="g" x="825.527" y="473.524" width="9.369" height="73.198"/><rect class="g" x="834.896" y="473.524" width="9.369" height="73.198"/><rect class="g" x="844.265" y="473.524" width="9.369" height="73.198"/><rect class="g" x="853.634" y="473.524" width="9.369" height="73.198"/><rect class="g" x="863.003" y="473.524" width="9.369" height="73.198"/><rect class="g" x="872.372" y="473.524" width="9.369" height="73.198"/><rect class="w" x="881.741" y="473.524" width="9.369" height="73.198"/><rect class="w" x="891.11" y="473.524" width="9.369" height="73.198"/><rect class="w" x="900.479" y="473.524" width="9.369" height="73.198"/><rect class="w" x="909.848" y="473.524" width="9.369" height="73.198"/><rect class="w" x="919.217" y="473.524" width="9.369" height="73.198"/><rect class="w" x="928.586" y="473.524" width="9.369" height="73.198"/><rect class="w" x="937.955" y="473.524" width="9.369" height="73.198"/><rect class="w" x="947.324" y="473.524" width="9.369" height="73.198"/><rect class="w" x="956.693" y="473.524" width="9.369" height="73.198"/><rect class="w" x="966.062" y="473.524" width="9.369" height="73.198"/><rect class="w" x="975.431" y="473.524" width="9.369" height="73.198"/><rect class="w" x="984.8" y="473.524" width="9.369" height="73.198"/><rect class="w" x="994.169" y="473.524" width="9.369" height="73.198"/><rect class="w" x="1003.538" y="473.524" width="9.369" height="73.198"/><rect class="w" x="1012.908" y="473.524" width="9.369" height="73.198"/><rect class="w" x="1022.277" y="473.524" width="9.369" height="73.198"/><rect class="w" x="1031.646" y="473.524" width="9.369" height="73.198"/><rect class="w" x="1041.015" y="473.524" width="9.369" height="73.198"/><rect class="w" x="1050.384" y="473.524" width="9.369" height="73.198"/><rect class="w" x="1059.753" y="473.524" width="9.369" height="73.198"/><rect class="w" x="1069.122" y="473.524" width="9.369" height="73.198"/><rect class="w" x="1078.491" y="473.524" width="9.369" height="73.198"/><rect class="w" x="1087.86" y="473.524" width="9.369" height="73.198"/><rect class="w" x="1097.229" y="473.524" width="9.369" height="73.198"/><rect class="w" x="1106.598" y="473.524" width="9.369" height="73.198"/><rect class="w" x="1115.967" y="473.524" width="9.369" height="73.198"/><rect class="w" x="1125.336" y="473.524" width="9.369" height="73.198"/><rect class="w" x="1134.705" y="473.524" width="9.369" height="73.198"/><rect class="w" x="1144.074" y="473.524" width="9.369" height="73.198"/><rect class="w" x="1153.443" y="473.524" width="9.369" height="73.198"/><rect class="w" x="1162.812" y="473.524" width="9.369" height="73.198"/><rect class="w" x="1172.181" y="473.524" width="9.369" height="73.198"/>
</g>
<g fill="#000" shape-rendering="crispEdges">
<rect x="123" y="548" width="1" height="4"/><rect x="123" y="552" width="1" height="1" fill-opacity="0.5"/><rect x="122" y="548" width="1" height="4" fill-opacity="0.055"/><rect x="124" y="548" width="1" height="4" fill-opacity="0.055"/><rect x="310" y="548" width="1" height="4"/><rect x="310" y="552" width="1" height="1" fill-opacity="0.5"/><rect x="309" y="548" width="1" height="4" fill-opacity="0.055"/><rect x="311" y="548" width="1" height="4" fill-opacity="0.055"/><rect x="498" y="548" width="1" height="4"/><rect x="498" y="552" width="1" height="1" fill-opacity="0.5"/><rect x="497" y="548" width="1" height="4" fill-opacity="0.055"/><rect x="499" y="548" width="1" height="4" fill-opacity="0.055"/><rect x="685" y="548" width="1" height="4"/><rect x="685" y="552" width="1" height="1" fill-opacity="0.5"/><rect x="684" y="548" width="1" height="4" fill-opacity="0.055"/><rect x="686" y="548" width="1" height="4" fill-opacity="0.055"/><rect x="872" y="548" width="1" height="4"/><rect x="872" y="552" width="1" height="1" fill-opacity="0.5"/><rect x="871" y="548" width="1" height="4" fill-opacity="0.055"/><rect x="873" y="548" width="1" height="4" fill-opacity="0.055"/><rect x="1060" y="548" width="1" height="4"/><rect x="1060" y="552" width="1" height="1" fill-opacity="0.5"/><rect x="1059" y="548" width="1" height="4" fill-opacity="0.055"/><rect x="1061" y="548" width="1" height="4" fill-opacity="0.055"/><rect x="119" y="71" width="4" height="1"/><rect x="118" y="71" width="1" height="1" fill-opacity="0.5"/><rect x="119" y="70" width="4" height="1" fill-opacity="0.055"/><rect x="119" y="72" width="4" height="1" fill-opacity="0.055"/><rect x="119" y="144" width="4" height="1"/><rect x="118" y="144" width="1" height="1" fill-opacity="0.5"/><rect x="119" y="143" width="4" height="1" fill-opacity="0.055"/><rect x="119" y="145" width="4" height="1" fill-opacity="0.055"/><rect x="119" y="217" width="4" height="1"/><rect x="118" y="217" width="1" height="1" fill-opacity="0.5"/><rect x="119" y="216" width="4" height="1" fill-opacity="0.055"/><rect x="119" y="218" width="4" height="1" fill-opacity="0.055"/><rect x="119" y="291" width="4" height="1"/><rect x="118" y="291" width="1" height="1" fill-opacity="0.5"/><rect x="119" y="290" width="4" height="1" fill-opacity="0.055"/><rect x="119" y="292" width="4" height="1" fill-opacity="0.055"/><rect x="119" y="364" width="4" height="1"/><rect x="118" y="364" width="1" height="1" fill-opacity="0.5"/><rect x="119" y="363" width="4" height="1" fill-opacity="0.055"/><rect x="119" y="365" width="4" height="1" fill-opacity="0.055"/><rect x="119" y="437" width="4" height="1"/><rect x="118" y="437" width="1" height="1" fill-opacity="0.5"/><rect x="119" y="436" width="4" height="1" fill-opacity="0.055"/><rect x="119" y="438" width="4" height="1" fill-opacity="0.055"/><rect x="119" y="510" width="4" height="1"/><rect x="118" y="510" width="1" height="1" fill-opacity="0.5"/><rect x="119" y="509" width="4" height="1" fill-opacity="0.055"/><rect x="119" y="511" width="4" height="1" fill-opacity="0.055"/>
</g>
<text x="122.975" y="563.518" font-size="9.639" text-anchor="middle">0</text>
<text x="310.556" y="563.518" font-size="9.639" text-anchor="middle" textLength="11.35" lengthAdjust="spacing">20</text>
<text x="497.611" y="563.518" font-size="9.639" text-anchor="middle" textLength="11.75" lengthAdjust="spacing">40</text>
<text x="685.567" y="563.518" font-size="9.639" text-anchor="middle" textLength="11.35" lengthAdjust="spacing">60</text>
<text x="873.272" y="563.518" font-size="9.639" text-anchor="middle" textLength="11.45" lengthAdjust="spacing">80</text>
<text x="1059.703" y="563.518" font-size="9.639" text-anchor="middle" textLength="17.475" lengthAdjust="spacing">100</text>
<text x="112.878" y="74.595" font-size="9.639" text-anchor="end">BCR (113)</text>
<text x="112.878" y="148.543" font-size="9.639" text-anchor="end" textLength="63.784" lengthAdjust="spacing">Clinical (113)</text>
<text x="113.503" y="221.616" font-size="9.639" text-anchor="end">miR (66)</text>
<text x="113.253" y="294.565" font-size="9.639" text-anchor="end">MAF (66)</text>
<text x="113.753" y="367.513" font-size="9.639" text-anchor="end">mRNA (66)</text>
<text x="113.753" y="440.587" font-size="9.639" text-anchor="end" textLength="79.705" lengthAdjust="spacing">Methylation (66)</text>
<text x="113.628" y="514.535" font-size="9.639" text-anchor="end" textLength="36.713" lengthAdjust="spacing">CN (66)</text>
<text x="651.325" y="581.62" font-size="11.569" font-weight="700" text-anchor="middle" textLength="71.862" lengthAdjust="spacing">Participant</text>
<text x="0" y="0" font-size="11.569" font-weight="700" text-anchor="middle" transform="translate(23.588 290.978) rotate(-90)" textLength="209.801" lengthAdjust="spacing">Data Type (Total Sample Count)</text>
<g fill="#000" shape-rendering="crispEdges">
<rect x="123" y="34" width="1060" height="1"/><rect x="123" y="547" width="1060" height="1"/><rect x="123" y="34" width="1" height="514"/><rect x="1182" y="34" width="1" height="514"/><rect x="123" y="33" width="1060" height="1" fill-opacity="0.055"/><rect x="123" y="35" width="1059" height="1" fill-opacity="0.055"/><rect x="123" y="546" width="1059" height="1" fill-opacity="0.055"/><rect x="123" y="548" width="1060" height="1" fill-opacity="0.055"/><rect x="122" y="34" width="1" height="514" fill-opacity="0.055"/><rect x="124" y="36" width="1" height="510" fill-opacity="0.055"/><rect x="1181" y="36" width="1" height="510" fill-opacity="0.055"/><rect x="1183" y="34" width="1" height="514" fill-opacity="0.055"/>
</g>
<text x="651.625" y="25.5" font-size="13.889" font-weight="700" text-anchor="middle" textLength="383.108" lengthAdjust="spacing">TCGA-KICH: Data Type Breakdown by Participant</text>
<path d="M1086.025 83.633 L1173 83.633 Q1175.5 83.633 1175.5 81.133 L1175.5 43.883 Q1175.5 41.383 1173 41.383 L1086.025 41.383 Q1083.525 41.383 1083.525 43.883 L1083.525 81.133 Q1083.525 83.633 1086.025 83.633 Z" fill="#fff" stroke="#ccc" stroke-width="1.389" opacity="0.8"/>
<rect x="1088" y="47" width="25" height="9" fill="#2e8b57"/>
<rect x="1088" y="66" width="25" height="9" fill="#fff"/>
<text x="1123.175" y="55.583" font-size="12.5" textLength="45.959" lengthAdjust="spacing">Present</text>
<text x="1122.925" y="74.583" font-size="12.5" textLength="42.703" lengthAdjust="spacing">Absent</text>
</svg>
</body></html>
